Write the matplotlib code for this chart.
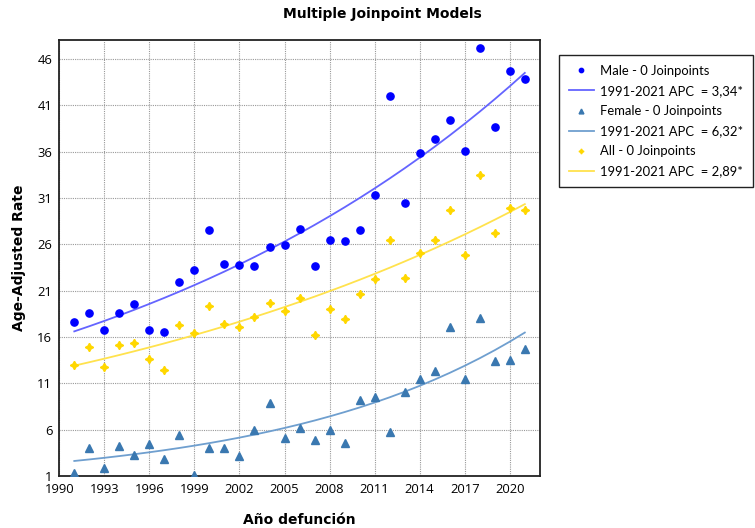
import numpy as np
import matplotlib
matplotlib.use("Agg")
import matplotlib.pyplot as plt

years = np.arange(1991, 2022)

male = [17.6, 18.6, 16.8, 18.6, 19.6, 16.7, 16.5, 21.9, 23.2, 27.5,
        23.9, 23.8, 23.6, 25.7, 25.9, 27.6, 23.7, 26.5, 26.4, 27.5,
        31.35, 42.0, 30.4, 35.8, 37.3, 39.4, 36.1, 47.15, 38.7, 44.7, 43.8]
female = [1.35, 4.05, 1.85, 4.25, 3.25, 4.5, 2.8, 5.45, 1.15, 4.0,
          4.0, 3.15, 6.0, 8.85, 5.05, 6.2, 4.9, 6.0, 4.55, 9.25,
          9.55, 5.7, 10.05, 11.45, 12.3, 17.1, 11.5, 18.05, 13.4, 13.5, 14.7]
both = [12.97, 14.95, 12.8, 15.1, 15.3, 13.65, 12.4, 17.3, 16.4, 19.35,
        17.35, 17.1, 18.2, 19.7, 18.75, 20.15, 16.2, 19.0, 17.9, 20.6,
        22.2, 26.5, 22.4, 25.1, 26.45, 29.7, 24.8, 33.5, 27.2, 29.95, 29.7]

# fitted model: start value in 1991 and APC from the legend
fit_start = {"male": 16.6, "female": 2.62, "all": 12.9}
apc = {"male": 3.34, "female": 6.32, "all": 2.89}

xticks = list(range(1990, 2021, 3))
yticks = list(range(1, 47, 5))

fig = plt.figure(figsize=(7.55, 5.28), dpi=100)
ax = fig.add_axes([0.0785, 0.0985, 0.6365, 0.8252])

def fit(key):
    return fit_start[key] * (1 + apc[key] / 100) ** (years - 1991)

ax.plot(years, male, ls="none", marker="o", ms=5.2, color="#0000ff",
        label="Male - 0 Joinpoints", zorder=3)
ax.plot(years, fit("male"), color="#6464ff", lw=1.3,
        label="1991-2021 APC  = 3,34*", zorder=2)
ax.plot(years, female, ls="none", marker="^", ms=5.8, color="#3a78b0",
        label="Female - 0 Joinpoints", zorder=3)
ax.plot(years, fit("female"), color="#6f9fcf", lw=1.3,
        label="1991-2021 APC  = 6,32*", zorder=2)
ax.plot(years, both, ls="none", marker=(4, 1, 0), ms=6, color="#ffd700",
        label="All - 0 Joinpoints", zorder=3)
ax.plot(years, fit("all"), color="#ffe24d", lw=1.3,
        label="1991-2021 APC  = 2,89*", zorder=2)

ax.set_xlim(1990, 2022)
ax.set_ylim(1, 48)
ax.set_xticks(xticks)
ax.set_yticks(yticks)
ax.tick_params(length=0, labelsize=9.4, pad=5)
for lab in ax.get_xticklabels() + ax.get_yticklabels():
    lab.set_fontfamily("Open Sans")
ax.grid(True, color="#999999", ls=(0, (1, 1)), lw=0.8)
for s in ax.spines.values():
    s.set_color("#222222")
    s.set_linewidth(1.3)

ax.set_xlabel("Año defunción", fontweight="bold", fontsize=10, labelpad=12)
ax.set_ylabel("Age-Adjusted Rate", fontweight="bold", fontsize=10, labelpad=8)
fig.text(0.506, 0.974, "Multiple Joinpoint Models", ha="center", va="center",
         fontweight="bold", fontsize=10)

leg = ax.legend(loc="upper left", bbox_to_anchor=(1.04, 0.966),
                borderaxespad=0, markerscale=0.6, handlelength=1.9,
                handletextpad=0.5, fancybox=False, edgecolor="#222222",
                framealpha=1, borderpad=0.75, labelspacing=0.62,
                prop={"family": "Lato", "size": 9.4})
leg.get_frame().set_linewidth(1.0)

fig.savefig("out.png", dpi=100)
